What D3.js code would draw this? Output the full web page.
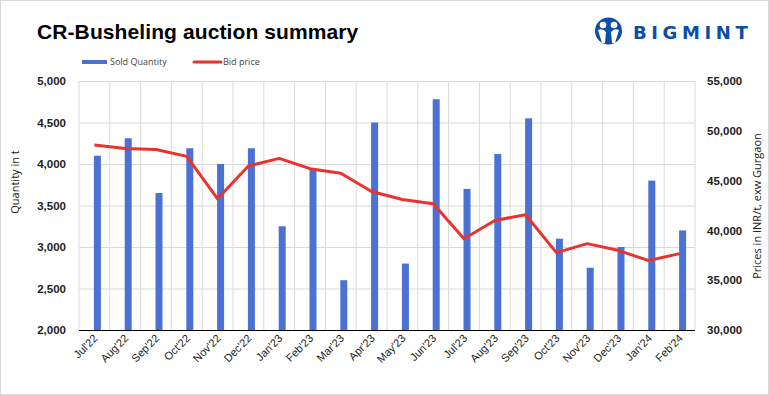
<!DOCTYPE html>
<html>
<head>
<meta charset="utf-8">
<script src="https://cdn.jsdelivr.net/npm/d3@7"></script>
<style>
  body { margin: 0; background: #fff; }
  svg { display: block; font-family: "Open Sans", sans-serif; }
  .grid line { stroke: #d9d9d9; stroke-width: 1; }
  .grid path { display: none; }
  .tick text { fill: #222; }
</style>
</head>
<body>
<svg width="769" height="395"></svg>
<script>
// months on the x axis
const months = ["Jul'22","Aug'22","Sep'22","Oct'22","Nov'22","Dec'22","Jan'23","Feb'23","Mar'23","Apr'23",
  "May'23","Jun'23","Jul'23","Aug'23","Sep'23","Oct'23","Nov'23","Dec'23","Jan'24","Feb'24"];
// sold quantity, t
const soldQty = [4100,4310,3650,4190,4000,4190,3250,3940,2600,4500,2800,4780,3700,4120,4550,3100,2750,3000,3800,3200];
// bid price, INR/t
const bidPrice = [48570,48230,48130,47430,43170,46470,47230,46200,45730,43900,43100,42670,39170,41000,41570,37770,38670,38000,36970,37670];
const qtyTicks = [2000,2500,3000,3500,4000,4500,5000];
const priceTicks = [30000,35000,40000,45000,50000,55000];

const svg = d3.select('svg');
const W = 769, H = 395;
const pLeft = 79, pRight = 695, pTop = 81, pBottom = 330;

// outer frame
svg.append('rect')
  .attr('x', 0.5).attr('y', 0.5)
  .attr('width', W - 1).attr('height', H - 1)
  .attr('fill', 'none').attr('stroke', '#d9d9d9');

const xScale = d3.scaleBand().domain(months).range([pLeft, pRight]).padding(0);
const yQty = d3.scaleLinear().domain([2000, 5000]).range([pBottom, pTop]);
const yPrice = d3.scaleLinear().domain([30000, 55000]).range([pBottom, pTop]);

// horizontal grid
svg.append('g')
  .attr('class', 'grid')
  .attr('transform', `translate(${pLeft},0)`)
  .call(d3.axisLeft(yQty).tickValues(qtyTicks).tickSize(-(pRight - pLeft)).tickFormat(''));

// vertical grid on band edges
svg.append('g')
  .attr('class', 'grid')
  .selectAll('line')
  .data(months.concat(['end']))
  .enter()
  .append('line')
  .attr('x1', (d, i) => pLeft + i * xScale.bandwidth())
  .attr('x2', (d, i) => pLeft + i * xScale.bandwidth())
  .attr('y1', pTop).attr('y2', pBottom);

// bars
const barW = 7;
svg.append('g')
  .selectAll('rect')
  .data(soldQty)
  .enter()
  .append('rect')
  .attr('x', (d, i) => xScale(months[i]) + xScale.bandwidth() / 2 - 0.5)
  .attr('y', d => yQty(d))
  .attr('width', barW)
  .attr('height', d => pBottom - yQty(d))
  .attr('fill', '#4a71d3');

// price line
const line = d3.line()
  .x((d, i) => xScale(months[i]) + xScale.bandwidth() / 2)
  .y(d => yPrice(d));

svg.append('path')
  .datum(bidPrice)
  .attr('d', line)
  .attr('fill', 'none')
  .attr('stroke', '#e8332f')
  .attr('stroke-width', 3)
  .attr('stroke-linejoin', 'round');

// x axis line
svg.append('line')
  .attr('x1', pLeft).attr('x2', pRight)
  .attr('y1', pBottom + 0.5).attr('y2', pBottom + 0.5)
  .attr('stroke', '#000').attr('stroke-width', 1.2);

// left axis labels
const yLeft = svg.append('g')
  .attr('transform', `translate(${pLeft},0)`)
  .call(d3.axisLeft(yQty).tickValues(qtyTicks).tickSize(0).tickPadding(13).tickFormat(d3.format(',')));
yLeft.select('.domain').remove();
yLeft.selectAll('text').style('font-size', '11.5px').style('font-weight', 600);

// right axis labels
const yRight = svg.append('g')
  .attr('transform', `translate(${pRight},0)`)
  .call(d3.axisRight(yPrice).tickValues(priceTicks).tickSize(0).tickPadding(12).tickFormat(d3.format(',')));
yRight.select('.domain').remove();
yRight.selectAll('text').style('font-size', '11.5px').style('font-weight', 600);

// x labels
const xAx = svg.append('g')
  .attr('transform', `translate(0,${pBottom})`)
  .call(d3.axisBottom(xScale).tickSize(0).tickPadding(0));
xAx.select('.domain').remove();
xAx.selectAll('text')
  .style('font-size', '11px')
  .style('text-anchor', 'end')
  .attr('dy', null)
  .attr('transform', 'translate(4,9) rotate(-45)');

// axis titles
svg.append('text')
  .attr('transform', `translate(19,182) rotate(-90)`)
  .attr('text-anchor', 'middle')
  .style('font-size', '11px')
  .attr('fill', '#222')
  .text('Quantity in t');

svg.append('text')
  .attr('transform', `translate(761,206) rotate(-90)`)
  .attr('text-anchor', 'middle')
  .style('font-size', '11px')
  .attr('fill', '#222')
  .text('Prices in INR/t, exw Gurgaon');

// title
svg.append('text')
  .attr('x', 37).attr('y', 39)
  .style('font-family', '"Liberation Sans", Arial, sans-serif')
  .style('font-size', '21px')
  .style('font-weight', 'bold')
  .style('letter-spacing', '0.1px')
  .attr('fill', '#000')
  .text('CR-Busheling auction summary');

// legend
const leg = svg.append('g').style('font-size', '9px').attr('fill', '#444');
leg.append('rect').attr('x', 82).attr('y', 60).attr('width', 25).attr('height', 4).attr('fill', '#4a71d3');
leg.append('text').attr('x', 110).attr('y', 65).text('Sold Quantity');
leg.append('line').attr('x1', 194).attr('x2', 221).attr('y1', 62).attr('y2', 62)
  .attr('stroke', '#e8332f').attr('stroke-width', 3).attr('stroke-linecap', 'round');
leg.append('text').attr('x', 223).attr('y', 65).text('Bid price');

// logo
const logo = svg.append('g');
const blue = '#0b4ea6';
logo.append('circle').attr('cx', 608.5).attr('cy', 31).attr('r', 13.5).attr('fill', blue);
logo.append('circle').attr('cx', 603).attr('cy', 25).attr('r', 3.3).attr('fill', '#fff');
logo.append('circle').attr('cx', 614).attr('cy', 25).attr('r', 3.3).attr('fill', '#fff');
logo.append('path')
  .attr('d', 'M598,30 Q603,28 606,32 L605,43 L602,43 Z M619,30 Q614,28 611,32 L612,43 L615,43 Z')
  .attr('fill', '#fff');
logo.append('text')
  .attr('x', 633).attr('y', 38.5)
  .style('font-family', '"DejaVu Sans", sans-serif')
  .style('font-size', '18px')
  .style('font-weight', 'bold')
  .style('letter-spacing', '4.6px')
  .attr('fill', blue)
  .text('BIGMINT');
</script>
</body>
</html>
